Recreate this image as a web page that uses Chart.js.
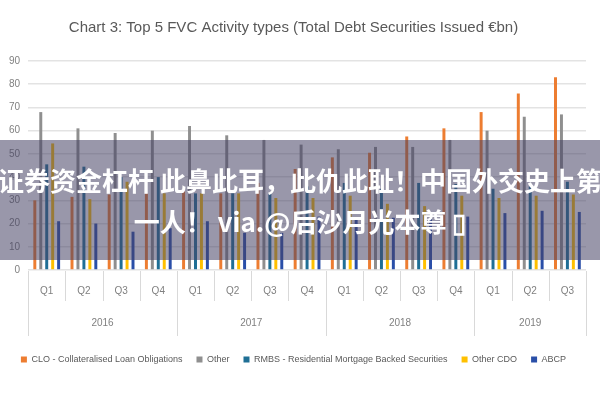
<!DOCTYPE html>
<html>
<head>
<meta charset="utf-8">
<script src="https://cdn.jsdelivr.net/npm/chart.js@4.4.1/dist/chart.umd.min.js"></script>
<style>
  body { margin: 0; background: #fff; }
  #wrap { position: relative; width: 600px; height: 400px; overflow: hidden; }
  #band { position: absolute; left: 0; top: 140px; width: 600px; height: 120px; background: rgba(70,65,100,0.55); }
  .cap { position: absolute; left: -150px; width: 900px; text-align: center; white-space: nowrap;
         color: #fff; font-family: 'Noto Sans CJK SC', sans-serif; font-weight: bold; font-size: 26px; line-height: 32px; }
</style>
</head>
<body>
<div id="wrap">
  <canvas id="fvcChart"></canvas>
  <div id="band">
    <div class="cap" style="top:24px">证券资金杠杆 此鼻此耳，此仇此耻！中国外交史上第</div>
    <div class="cap" style="top:65px">一人！ via.@后沙月光本尊 ▯</div>
  </div>
</div>
<script>
// categorias y series
var quarters = ['Q1', 'Q2', 'Q3', 'Q4', 'Q1', 'Q2', 'Q3', 'Q4', 'Q1', 'Q2', 'Q3', 'Q4', 'Q1', 'Q2', 'Q3'];
var years = ['2016', '2017', '2018', '2019'];
var yearStart = [0, 4, 8, 12];   // primer trimestre de cada año
var yearLen = [4, 4, 4, 3];
var yTicks = [0, 10, 20, 30, 40, 50, 60, 70, 80, 90];

var clo = [30, 31.5, 32.5, 33, 34, 33, 37.5, 43.5, 48.5, 50.5, 57.5, 61, 68, 76, 83];
var other = [68, 61, 59, 60, 62, 58, 56, 54, 52, 53, 53, 56, 60, 66, 67];
var rmbs = [45.5, 44.5, 40, 40, 33, 33, 33, 36, 37.5, 35, 37.5, 37, 35, 36, 38];
var otherCdo = [54.5, 30.5, 38, 33, 33, 33, 31, 31, 32, 28.5, 27.5, 32, 31, 32, 32.5];
var abcp = [21, 20, 16.5, 18, 21, 16, 16, 23, 22, 22.5, 22, 23, 24.5, 25.5, 25];

// separadores y etiquetas de año bajo el eje x
var yearAxisPlugin = {
    id: 'yearAxis',
    afterDraw: function(chart) {
        var x = chart.scales.x;
        var ctx = chart.ctx;
        var step = x.getPixelForValue(1) - x.getPixelForValue(0);
        var top = x.top;
        ctx.save();
        ctx.strokeStyle = '#d9d9d9';
        ctx.lineWidth = 1;
        for (var i = 0; i <= quarters.length; i++) {
            var px = Math.round(x.getPixelForValue(i) - step / 2) + 0.5;
            var isYear = yearStart.indexOf(i) >= 0 || i === quarters.length;
            ctx.beginPath();
            ctx.moveTo(px, top + 1);
            ctx.lineTo(px, top + (isYear ? 66 : 31));
            ctx.stroke();
        }
        ctx.fillStyle = '#808080';
        ctx.font = "10px 'Liberation Sans', sans-serif";
        ctx.textAlign = 'center';
        ctx.textBaseline = 'middle';
        for (var j = 0; j < years.length; j++) {
            var c = x.getPixelForValue(yearStart[j] + (yearLen[j] - 1) / 2);
            ctx.fillText(years[j], c, top + 53);
        }
        ctx.restore();
    }
};

document.addEventListener('DOMContentLoaded', function() {
    Chart.defaults.font.family = "'Liberation Sans', sans-serif";
    Chart.defaults.color = '#808080';

    var ds = function(label, data, color) {
        return { label: label, data: data, backgroundColor: color, borderWidth: 0,
                 barPercentage: 0.5, categoryPercentage: 0.8 };
    };

    var fvcChart = new Chart(document.getElementById('fvcChart'), {
        type: 'bar',
        data: {
            labels: quarters,
            datasets: [
                ds('CLO - Collateralised Loan Obligations', clo, '#ED7D31'),
                ds('Other', other, '#8F8F8F'),
                ds('RMBS - Residential Mortgage Backed Securities', rmbs, '#1F6F95'),
                ds('Other CDO', otherCdo, '#FFC000'),
                ds('ABCP', abcp, '#2A4FA8')
            ]
        },
        plugins: [yearAxisPlugin],
        options: {
            responsive: true,
            maintainAspectRatio: false,
            animation: false,
            layout: { padding: { left: 1, right: 14, bottom: 26 } },
            plugins: {
                title: {
                    display: true,
                    text: 'Chart 3: Top 5 FVC Activity types (Total Debt Securities Issued €bn)',
                    color: '#595959',
                    font: { size: 15, weight: 'normal' },
                    padding: { top: 19, bottom: 24 }
                },
                legend: {
                    position: 'bottom',
                    labels: { boxWidth: 6, boxHeight: 6, color: '#595959', font: { size: 9 }, padding: 14 }
                },
                tooltip: { enabled: false }
            },
            scales: {
                x: {
                    grid: { display: false },
                    border: { display: false },
                    ticks: { padding: 7, color: '#808080', font: { size: 10 }, maxRotation: 0, autoSkip: false },
                    afterFit: function(scale) { scale.height = 71; }
                },
                y: {
                    min: 0,
                    max: 90,
                    afterBuildTicks: function(axis) {
                        axis.ticks = yTicks.map(function(v) { return { value: v }; });
                    },
                    grid: { color: '#e3e3e3', lineWidth: 1.5, drawTicks: false },
                    border: { display: false },
                    ticks: { padding: 8, color: '#808080', font: { size: 10 } }
                }
            }
        }
    });
});
</script>
</body>
</html>
